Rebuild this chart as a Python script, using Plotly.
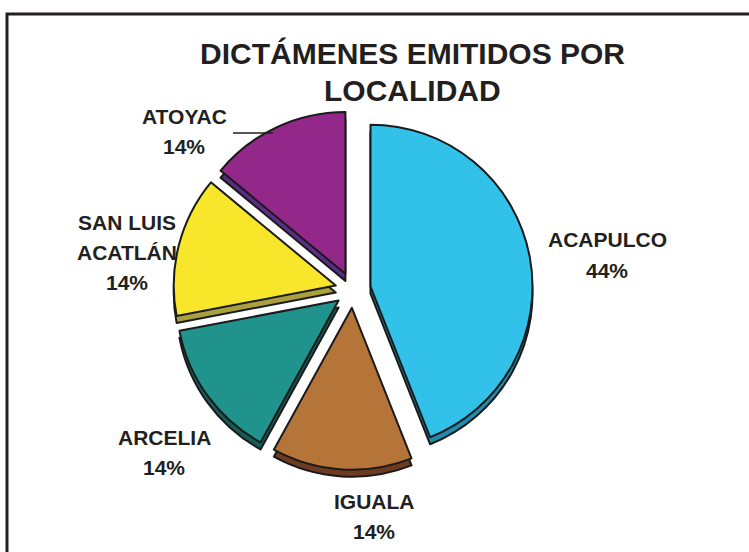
import plotly.graph_objects as go

# ---- data ----
categories = ["ACAPULCO", "IGUALA", "ARCELIA", "SAN LUIS ACATLÁN", "ATOYAC"]
values = [44, 14, 14, 14, 14]
label_lines = [["ACAPULCO"], ["IGUALA"], ["ARCELIA"], ["SAN LUIS", "ACATLÁN"], ["ATOYAC"]]
title_lines = ["DICTÁMENES EMITIDOS POR", "LOCALIDAD"]

# ---- styles ----
face_colors = ["#31C1E9", "#B57438", "#20948C", "#F8E62A", "#94288A"]
side_colors = ["#1E8DAE", "#6C3B22", "#155E58", "#A9A03E", "#5A2D8A"]
# label anchor (center x, first-line center y) in page pixels
label_pos = [(607, 240), (374, 501), (164, 437), (127, 222), (184, 117)]
line_step = 30

W, H = 749, 552


def px_x(px):
    return px / W


def px_y(py):
    return 1 - py / H


cx, cy = 353, 290
r, pull = 162, 0.11
half = r * (1 + pull)
dom_x = [px_x(cx - half), px_x(cx + half)]
dom_y = [px_y(cy + half), px_y(cy - half)]
depth = 7
dom_y_side = [dom_y[0] - depth / H, dom_y[1] - depth / H]

TXT = "#231F20"
FONT = "Liberation Sans, Arial, Helvetica, sans-serif"

fig = go.Figure()
# darker "side" pie shifted downward for 3-D look
fig.add_trace(go.Pie(
    labels=categories, values=values, sort=False, direction="clockwise", rotation=0,
    pull=[pull] * len(values), domain=dict(x=dom_x, y=dom_y_side),
    marker=dict(colors=side_colors, line=dict(color="#1A1A1A", width=2)),
    textinfo="none", hoverinfo="skip", showlegend=False,
))
# top face
fig.add_trace(go.Pie(
    labels=categories, values=values, sort=False, direction="clockwise", rotation=0,
    pull=[pull] * len(values), domain=dict(x=dom_x, y=dom_y),
    marker=dict(colors=face_colors, line=dict(color="#1A1A1A", width=2)),
    textinfo="none", hovertemplate="%{label}: %{percent}<extra></extra>", showlegend=False,
))

total = sum(values)
annotations = []
for lines, v, (px, py) in zip(label_lines, values, label_pos):
    texts = lines + [f"{v / total * 100:.0f}%"]
    for i, t in enumerate(texts):
        annotations.append(dict(
            x=px_x(px), y=px_y(py + i * line_step), xref="paper", yref="paper",
            text=f"<b>{t}</b>", showarrow=False, xanchor="center", yanchor="middle",
            font=dict(family=FONT, size=21, color=TXT),
        ))

for i, t in enumerate(title_lines):
    annotations.append(dict(
        x=px_x(412), y=px_y(54 + i * 37), xref="paper", yref="paper",
        text=f"<b>{t}</b>", showarrow=False, xanchor="center", yanchor="middle",
        font=dict(family=FONT, size=30, color=TXT),
    ))

shapes = [
    dict(type="rect", xref="paper", yref="paper", x0=px_x(7), x1=1.05, y0=-0.05, y1=px_y(14),
         line=dict(color=TXT, width=3), fillcolor="rgba(0,0,0,0)"),
    dict(type="line", xref="paper", yref="paper", x0=px_x(233), x1=px_x(273),
         y0=px_y(133), y1=px_y(133), line=dict(color=TXT, width=1.5)),
]

fig.update_layout(
    width=W, height=H, margin=dict(l=0, r=0, t=0, b=0),
    paper_bgcolor="white", plot_bgcolor="white",
    annotations=annotations, shapes=shapes, showlegend=False,
)

fig.write_html(
    "out.html",
    config={"displayModeBar": False},
    post_script="document.body.style.margin='0';document.body.style.overflow='hidden';",
)
